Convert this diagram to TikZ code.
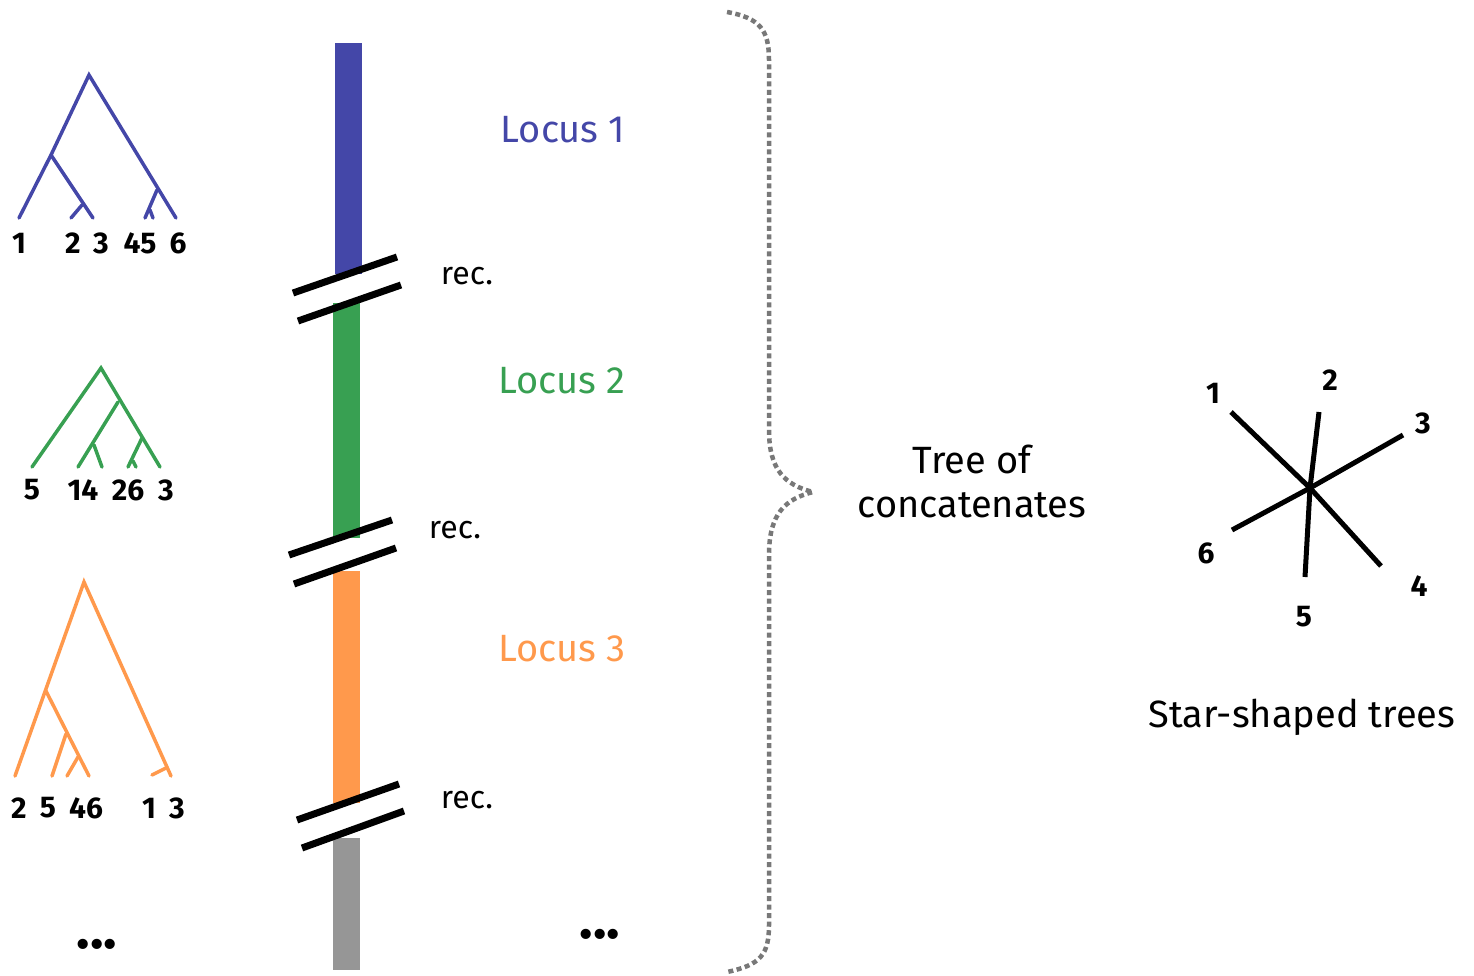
\documentclass[tikz,border=0pt]{standalone}
\usepackage{fontspec}
\setmainfont{Fira Sans}
\definecolor{tblue}{RGB}{68,71,168}
\definecolor{tgreen}{RGB}{56,160,82}
\definecolor{torange}{RGB}{255,153,76}
\definecolor{tgray}{RGB}{150,150,150}
\definecolor{bracegray}{RGB}{120,120,120}
\begin{document}
\begin{tikzpicture}[x=1pt,y=-1pt,
  branch/.style={line width=3.5pt,line cap=round},
  leaflab/.style={font=\fontsize{30}{32}\selectfont\bfseries,inner sep=0pt},
  locuslab/.style={font=\fontsize{38}{40}\selectfont,inner sep=0pt},
  reclab/.style={font=\fontsize{32}{34}\selectfont,inner sep=0pt},
  bigtext/.style={font=\fontsize{38}{44}\selectfont,inner sep=0pt,align=center},
  slash/.style={line width=7pt},
  starline/.style={line width=5pt},
  dots/.style={font=\fontsize{56}{56}\selectfont\bfseries,inner sep=0pt}]
\useasboundingbox (0,0) rectangle (1474,975);

% ---------- Tree 1 (blue) ----------
\coordinate (a0) at (89,75);
\coordinate (a1) at (51,155);
\coordinate (a2) at (82,205);
\coordinate (a3) at (157,190);
\coordinate (a4) at (150,210);
\coordinate (aL1) at (19,218);
\coordinate (aL2) at (71,218);
\coordinate (aL3) at (93,218);
\coordinate (aL4) at (145,218);
\coordinate (aL5) at (153,218);
\coordinate (aL6) at (176,218);
\draw[branch,tblue] (aL1) -- (a1) -- (a0) -- (aL6);
\draw[branch,tblue] (a1) -- (aL3);
\draw[branch,tblue] (a2) -- (aL2);
\draw[branch,tblue] (a3) -- (aL4);
\draw[branch,tblue] (a4) -- (aL5);
\node[leaflab] (t1l1) at (19,243) {1};
\node[leaflab] (t1l2) at (73,243) {2};
\node[leaflab] (t1l3) at (101,243) {3};
\node[leaflab] (t1l45) at (140,243) {45};
\node[leaflab] (t1l6) at (178,243) {6};

% ---------- Tree 2 (green) ----------
\coordinate (b0) at (101,368);
\coordinate (b1) at (118,402);
\coordinate (b2) at (94,445);
\coordinate (b3) at (142,438);
\coordinate (b4) at (133,461);
\coordinate (bL5) at (32,467);
\coordinate (bL1) at (78,467);
\coordinate (bL4) at (102,467);
\coordinate (bL2) at (128,467);
\coordinate (bL6) at (136,467);
\coordinate (bL3) at (160,467);
\draw[branch,tgreen] (bL5) -- (b0) -- (bL3);
\draw[branch,tgreen] (b1) -- (bL1);
\draw[branch,tgreen] (b2) -- (bL4);
\draw[branch,tgreen] (b3) -- (bL2);
\draw[branch,tgreen] (b4) -- (bL6);
\node[leaflab] (t2l5) at (32,490) {5};
\node[leaflab] (t2l14) at (83,490) {14};
\node[leaflab] (t2l26) at (128,490) {26};
\node[leaflab] (t2l3) at (166,490) {3};

% ---------- Tree 3 (orange) ----------
\coordinate (c0) at (84,582);
\coordinate (c1) at (46,691);
\coordinate (c2) at (66,734);
\coordinate (c3) at (78,757);
\coordinate (c4) at (166,768);
\coordinate (cL2) at (15,776);
\coordinate (cL5) at (52,776);
\coordinate (cL4) at (67,776);
\coordinate (cL6) at (89,776);
\coordinate (cL1) at (152,775);
\coordinate (cL3) at (171,776);
\draw[branch,torange] (cL2) -- (c0) -- (cL3);
\draw[branch,torange] (c1) -- (cL6);
\draw[branch,torange] (c2) -- (cL5);
\draw[branch,torange] (c3) -- (cL4);
\draw[branch,torange] (c4) -- (cL1);
\node[leaflab] (t3l2) at (19,808) {2};
\node[leaflab] (t3l5) at (48,808) {5};
\node[leaflab] (t3l46) at (86,808) {46};
\node[leaflab] (t3l1) at (149,808) {1};
\node[leaflab] (t3l3) at (177,808) {3};

\node[dots] (ldots) at (97,944) {...};

% ---------- Chromosome ----------
\fill[tblue] (335,43) rectangle (362,274);
\fill[tgreen] (333,303) rectangle (360,538);
\fill[torange] (333,571) rectangle (360,803);
\fill[tgray] (333,838) rectangle (360,970);

\coordinate (s1a) at (293,293); \coordinate (s1b) at (397,257);
\coordinate (s1c) at (298,321); \coordinate (s1d) at (401,285);
\coordinate (s2a) at (289,555); \coordinate (s2b) at (392,520);
\coordinate (s2c) at (294,584); \coordinate (s2d) at (396,548);
\coordinate (s3a) at (297,820); \coordinate (s3b) at (399,784);
\coordinate (s3c) at (302,848); \coordinate (s3d) at (404,811);
\draw[slash] (s1a) -- (s1b);
\draw[slash] (s1c) -- (s1d);
\draw[slash] (s2a) -- (s2b);
\draw[slash] (s2c) -- (s2d);
\draw[slash] (s3a) -- (s3b);
\draw[slash] (s3c) -- (s3d);

\node[reclab] (rec1) at (467,276) {rec.};
\node[reclab] (rec2) at (455,530) {rec.};
\node[reclab] (rec3) at (467,800) {rec.};

\node[locuslab,text=tblue] (loc1) at (563,130) {Locus 1};
\node[locuslab,text=tgreen] (loc2) at (562,381) {Locus 2};
\node[locuslab,text=torange] (loc3) at (562,649) {Locus 3};

\node[dots] (mdots) at (600,934) {...};

% ---------- Brace ----------
\draw[bracegray,line width=4.5pt,dash pattern=on 5pt off 3.5pt]
  (727,12) .. controls (760,18) and (769,30) .. (769,60)
  -- (769,430) .. controls (769,470) and (785,485) .. (813,492)
  .. controls (785,499) and (769,514) .. (769,555)
  -- (769,925) .. controls (769,955) and (760,965) .. (727,972);

\node[bigtext] (conc) at (972,481) {Tree of\\concatenates};

% ---------- Star ----------
\coordinate (ctr) at (1310,488);
\coordinate (e1) at (1231,412);
\coordinate (e2) at (1319,412);
\coordinate (e3) at (1403,435);
\coordinate (e4) at (1381,566);
\coordinate (e5) at (1305,577);
\coordinate (e6) at (1232,530);
\draw[starline] (e1) -- (ctr) -- (e4);
\draw[starline] (e2) -- (ctr) -- (e5);
\draw[starline] (e3) -- (ctr) -- (e6);
\node[leaflab] (n1) at (1213,393) {1};
\node[leaflab] (n2) at (1330,380) {2};
\node[leaflab] (n3) at (1423,423) {3};
\node[leaflab] (n4) at (1419,586) {4};
\node[leaflab] (n5) at (1304,617) {5};
\node[leaflab] (n6) at (1206,553) {6};

\node[bigtext] (startxt) at (1302,717) {Star-shaped trees};
\end{tikzpicture}
\end{document}
